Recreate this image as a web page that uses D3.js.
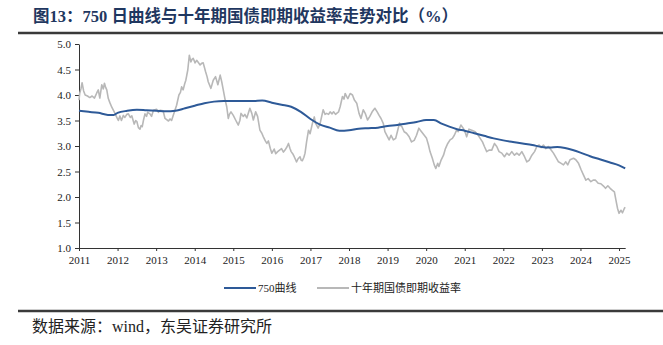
<!DOCTYPE html>
<html>
<head>
<meta charset="utf-8">
<script src="https://cdn.jsdelivr.net/npm/d3@7"></script>
<style>
  body { margin: 0; background: #fff; }
  svg { display: block; }
  .axis text { font-family: "Liberation Serif", "DejaVu Serif", serif; font-size: 11px; fill: #222; }
  .axis path, .axis line { stroke: #333; }
</style>
</head>
<body>
<svg width="663" height="345"></svg>
<script>
// 750-day moving average of the 10y yield  [decimal year, %]
const ma750 = [
  [2011.0,3.69],[2011.25,3.67],[2011.5,3.65],[2011.75,3.61],[2011.9,3.61],[2012.0,3.65],
  [2012.25,3.69],[2012.5,3.71],[2012.75,3.70],[2013.0,3.69],[2013.25,3.68],[2013.5,3.69],
  [2013.75,3.74],[2014.0,3.79],[2014.25,3.84],[2014.5,3.87],[2014.75,3.88],[2015.0,3.88],
  [2015.25,3.88],[2015.5,3.88],[2015.75,3.89],[2016.0,3.85],[2016.25,3.81],[2016.5,3.77],
  [2016.75,3.67],[2017.0,3.53],[2017.25,3.42],[2017.5,3.36],[2017.75,3.30],[2018.0,3.31],
  [2018.25,3.34],[2018.5,3.35],[2018.75,3.36],[2019.0,3.39],[2019.25,3.41],[2019.5,3.44],
  [2019.75,3.47],[2020.0,3.51],[2020.2,3.51],[2020.4,3.44],[2020.6,3.38],[2020.8,3.33],
  [2021.0,3.30],[2021.25,3.25],[2021.5,3.20],[2021.75,3.15],[2022.0,3.11],[2022.25,3.08],
  [2022.5,3.05],[2022.75,3.02],[2023.0,2.98],[2023.2,2.97],[2023.4,2.98],[2023.6,2.96],
  [2023.8,2.92],[2024.0,2.87],[2024.25,2.80],[2024.5,2.74],[2024.75,2.68],[2025.0,2.62],
  [2025.16,2.56]
];

// 10-year government bond spot yield  [decimal year, %]
const yield10y = [
  [2011.00,3.90],[2011.02,4.04],[2011.05,4.12],[2011.08,4.24],[2011.12,4.08],[2011.16,4.00],
  [2011.22,3.98],[2011.28,3.95],[2011.34,3.98],[2011.40,3.94],[2011.46,4.04],[2011.50,4.10],
  [2011.54,3.94],[2011.59,4.20],[2011.63,4.12],[2011.66,4.23],[2011.69,4.15],[2011.72,4.10],
  [2011.76,3.93],[2011.80,3.85],[2011.85,3.76],[2011.92,3.66],[2011.98,3.56],[2012.02,3.50],
  [2012.06,3.59],[2012.10,3.50],[2012.15,3.60],[2012.19,3.56],[2012.24,3.62],[2012.28,3.63],
  [2012.33,3.56],[2012.37,3.59],[2012.43,3.43],[2012.47,3.50],[2012.50,3.48],[2012.54,3.36],
  [2012.58,3.33],[2012.61,3.40],[2012.64,3.38],[2012.67,3.50],[2012.71,3.63],[2012.75,3.58],
  [2012.78,3.66],[2012.84,3.63],[2012.88,3.58],[2012.93,3.70],[2013.01,3.72],[2013.06,3.66],
  [2013.10,3.70],[2013.18,3.69],[2013.23,3.54],[2013.32,3.49],[2013.36,3.53],[2013.40,3.50],
  [2013.47,3.66],[2013.53,3.80],[2013.59,4.00],[2013.63,4.05],[2013.66,4.16],[2013.70,4.10],
  [2013.74,4.22],[2013.77,4.29],[2013.82,4.49],[2013.86,4.78],[2013.90,4.65],[2013.93,4.70],
  [2013.96,4.72],[2014.01,4.63],[2014.05,4.68],[2014.08,4.65],[2014.14,4.59],[2014.18,4.62],
  [2014.22,4.63],[2014.28,4.46],[2014.32,4.36],[2014.35,4.26],[2014.42,4.13],[2014.48,4.29],
  [2014.54,4.36],[2014.60,4.20],[2014.66,4.39],[2014.70,4.26],[2014.74,4.10],[2014.79,3.90],
  [2014.83,3.77],[2014.87,3.54],[2014.90,3.62],[2014.94,3.67],[2015.00,3.60],[2015.06,3.51],
  [2015.13,3.41],[2015.17,3.50],[2015.20,3.64],[2015.26,3.58],[2015.30,3.62],[2015.35,3.55],
  [2015.43,3.74],[2015.48,3.64],[2015.52,3.51],[2015.58,3.67],[2015.63,3.58],[2015.69,3.31],
  [2015.74,3.25],[2015.78,3.18],[2015.83,3.10],[2015.87,3.05],[2015.91,3.10],[2015.96,2.95],
  [2016.00,2.86],[2016.06,2.94],[2016.10,2.85],[2016.15,2.89],[2016.20,2.92],[2016.25,2.95],
  [2016.30,2.88],[2016.34,2.92],[2016.39,2.98],[2016.43,3.05],[2016.47,2.95],[2016.50,2.89],
  [2016.54,2.85],[2016.58,2.79],[2016.64,2.69],[2016.68,2.75],[2016.73,2.79],[2016.76,2.72],
  [2016.79,2.71],[2016.83,2.78],[2016.86,2.86],[2016.90,3.08],[2016.95,3.31],[2016.99,3.24],
  [2017.05,3.44],[2017.10,3.57],[2017.13,3.45],[2017.16,3.41],[2017.20,3.35],[2017.25,3.44],
  [2017.33,3.71],[2017.38,3.62],[2017.42,3.64],[2017.47,3.62],[2017.51,3.67],[2017.56,3.63],
  [2017.60,3.67],[2017.65,3.62],[2017.68,3.64],[2017.73,3.67],[2017.77,3.77],[2017.83,3.97],
  [2017.87,3.92],[2017.90,4.03],[2017.94,3.97],[2017.97,3.93],[2018.03,4.03],[2018.09,4.00],
  [2018.14,3.90],[2018.20,3.84],[2018.26,3.64],[2018.31,3.54],[2018.37,3.71],[2018.42,3.64],
  [2018.48,3.51],[2018.54,3.58],[2018.60,3.67],[2018.67,3.74],[2018.73,3.67],[2018.78,3.60],
  [2018.83,3.54],[2018.89,3.44],[2018.93,3.28],[2019.00,3.18],[2019.04,3.12],[2019.09,3.21],
  [2019.15,3.12],[2019.21,3.15],[2019.26,3.30],[2019.31,3.45],[2019.34,3.40],[2019.37,3.38],
  [2019.43,3.28],[2019.49,3.25],[2019.56,3.18],[2019.62,3.08],[2019.69,3.11],[2019.75,3.21],
  [2019.81,3.35],[2019.88,3.28],[2019.95,3.21],[2020.01,3.15],[2020.06,3.02],[2020.10,2.89],
  [2020.16,2.76],[2020.21,2.63],[2020.25,2.56],[2020.30,2.66],[2020.33,2.60],[2020.39,2.73],
  [2020.45,2.82],[2020.50,2.95],[2020.56,3.05],[2020.62,3.12],[2020.68,3.15],[2020.73,3.21],
  [2020.79,3.31],[2020.83,3.28],[2020.90,3.41],[2020.96,3.35],[2021.02,3.25],[2021.05,3.18],
  [2021.11,3.33],[2021.18,3.31],[2021.27,3.28],[2021.34,3.22],[2021.40,3.15],[2021.46,3.08],
  [2021.51,2.99],[2021.57,2.89],[2021.63,2.92],[2021.70,2.92],[2021.77,3.05],[2021.83,2.99],
  [2021.89,2.89],[2021.96,2.86],[2022.03,2.79],[2022.09,2.86],[2022.15,2.82],[2022.22,2.89],
  [2022.29,2.82],[2022.35,2.86],[2022.41,2.82],[2022.48,2.89],[2022.55,2.79],[2022.61,2.69],
  [2022.67,2.72],[2022.74,2.82],[2022.81,2.89],[2022.87,2.99],[2022.93,3.02],[2022.98,2.97],
  [2023.04,3.02],[2023.10,2.95],[2023.17,2.99],[2023.24,2.92],[2023.30,2.86],[2023.36,2.78],
  [2023.43,2.69],[2023.50,2.66],[2023.56,2.63],[2023.62,2.69],[2023.67,2.63],[2023.73,2.73],
  [2023.82,2.76],[2023.88,2.73],[2023.95,2.66],[2024.02,2.53],[2024.08,2.43],[2024.14,2.33],
  [2024.20,2.36],[2024.27,2.30],[2024.33,2.33],[2024.39,2.33],[2024.46,2.27],[2024.53,2.26],
  [2024.59,2.22],[2024.65,2.17],[2024.71,2.22],[2024.77,2.17],[2024.83,2.13],[2024.88,2.10],
  [2024.92,1.94],[2024.96,1.78],[2025.00,1.68],[2025.05,1.74],[2025.09,1.69],[2025.14,1.78],
  [2025.16,1.80]
];

const yearTicks = d3.range(2011, 2026);
const valueTicks = [1.0, 1.5, 2.0, 2.5, 3.0, 3.5, 4.0, 4.5, 5.0];
const seriesNames = ["750曲线", "十年期国债即期收益率"];
const seriesColors = ["#2e5a98", "#b8b8b8"];

const titleText = "图13：750 日曲线与十年期国债即期收益率走势对比（%）";
const sourceText = "数据来源：wind，东吴证券研究所";

const svg = d3.select("svg");

// plot area
const plotLeft = 79, plotRight = 625.2, plotTop = 44, plotBottom = 248;

const x = d3.scaleLinear().domain([2011, 2025.16]).range([plotLeft, plotRight]);
const y = d3.scaleLinear().domain([1, 5]).range([plotBottom, plotTop]);

// title + rules
svg.append("text")
    .attr("x", 33)
    .attr("y", 22)
    .attr("fill", "#1f3760")
    .style("font-family", "'Liberation Serif', 'Noto Sans CJK SC', serif")
    .style("font-weight", "bold")
    .style("font-size", "16.5px")
    .text(titleText);

svg.append("line")
    .attr("x1", 18).attr("x2", 663)
    .attr("y1", 33).attr("y2", 33)
    .attr("stroke", "#3a3a3a")
    .attr("stroke-width", 2.5);

svg.append("line")
    .attr("x1", 18).attr("x2", 663)
    .attr("y1", 311).attr("y2", 311)
    .attr("stroke", "#3a3a3a")
    .attr("stroke-width", 2.5);

svg.append("text")
    .attr("x", 32)
    .attr("y", 332)
    .attr("fill", "#222")
    .style("font-family", "'Liberation Serif', 'Noto Sans CJK SC', serif")
    .style("font-size", "16px")
    .text(sourceText);

// axes
svg.append("g")
    .attr("class", "axis")
    .attr("transform", "translate(" + plotLeft + ",0)")
    .call(d3.axisLeft(y).tickValues(valueTicks).tickFormat(d3.format(".1f")).tickSize(4).tickSizeOuter(0).tickPadding(4));

svg.append("g")
    .attr("class", "axis")
    .attr("transform", "translate(0," + plotBottom + ")")
    .call(d3.axisBottom(x).tickValues(yearTicks).tickFormat(d3.format("d")).tickSize(3).tickSizeOuter(0).tickPadding(5));

// lines
const line = d3.line()
    .x(d => x(d[0]))
    .y(d => y(d[1]));

svg.append("path")
    .datum(yield10y)
    .attr("fill", "none")
    .attr("stroke", seriesColors[1])
    .attr("stroke-width", 1.6)
    .attr("stroke-linejoin", "round")
    .attr("d", line);

svg.append("path")
    .datum(ma750)
    .attr("fill", "none")
    .attr("stroke", seriesColors[0])
    .attr("stroke-width", 2)
    .attr("d", line.curve(d3.curveMonotoneX));

// legend
const legendX = [224, 317];
const legend = svg.append("g")
    .selectAll("g")
    .data(seriesNames)
    .join("g")
    .attr("transform", (d, i) => "translate(" + legendX[i] + ",288)");

legend.append("line")
    .attr("x1", 0).attr("x2", 32)
    .attr("stroke", (d, i) => seriesColors[i])
    .attr("stroke-width", 2);

legend.append("text")
    .attr("x", 34)
    .attr("dy", "0.35em")
    .attr("fill", "#222")
    .style("font-family", "'Liberation Serif', 'Noto Sans CJK SC', serif")
    .style("font-size", "11px")
    .text(d => d);
</script>
</body>
</html>
